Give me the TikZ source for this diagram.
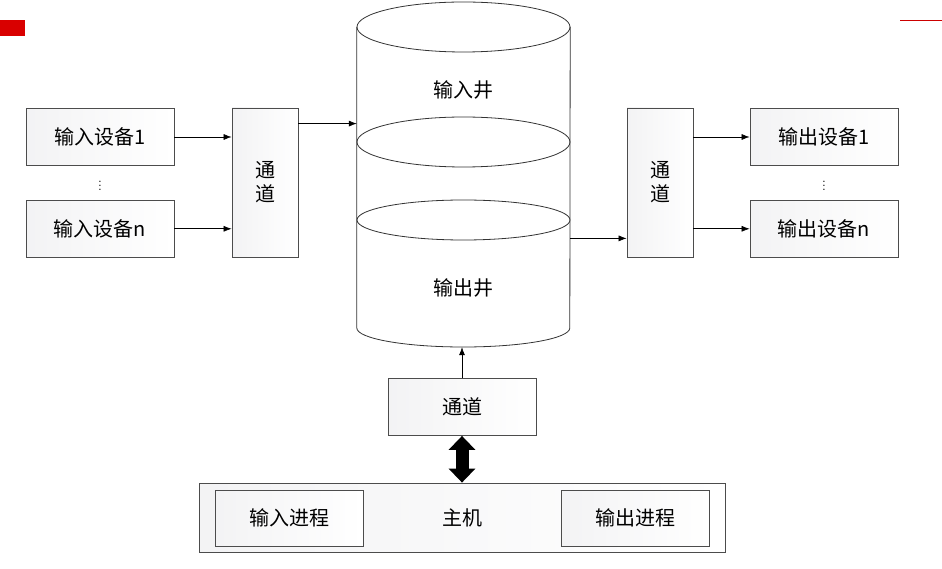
\documentclass[tikz,border=0pt]{standalone}
\usepackage{fontspec}
\newfontfamily\cjk{Noto Sans CJK SC}
\usetikzlibrary{arrows.meta,positioning,calc}

\begin{document}
\begin{tikzpicture}[
  x=1pt, y=1pt,
  node distance=34pt,
  font=\cjk\fontsize{20}{24}\selectfont,
  box/.style={rectangle, draw=black!70, line width=0.8pt, left color=blue!6!gray!9, right color=white, minimum width=148pt, minimum height=57pt, inner sep=0pt},
  chan/.style={box, minimum width=66pt, minimum height=149pt, align=center},
  link/.style={-{Latex[length=8pt,width=6pt]}, line width=0.6pt},
  vdots/.style={inner sep=0pt, font=\fontsize{14}{14}\selectfont},
]
  \useasboundingbox (0,0) rectangle (942,568);
  % page marks
  \fill[red!85!black] (0,532) rectangle (25,548);
  \draw[red!80!black, line width=1pt] (900,547) -- (942,547);

  % input side
  \node[box] (in1) at (100,431) {输入设备1};
  \node[box, below=34pt of in1] (inn) {输入设备n};
  \node[vdots] (indots) at ($(in1)!0.5!(inn)$) {$\vdots$};
  \node[chan] (chanin) at (265,385.5) {通\\道};

  % the well (cylinder)
  \node[minimum width=213pt, minimum height=345pt, inner sep=0pt] (well) at (463.5,393.5) {};
  \begin{scope}[line width=0.8pt, draw=black!80]
    \fill[white] (well.west |- 0,541) -- (well.west |- 0,240) arc[start angle=180, end angle=360, x radius=106.5, y radius=19] -- (well.east |- 0,541) -- cycle;
    \draw (well.west |- 0,541) -- (well.west |- 0,240) arc[start angle=180, end angle=360, x radius=106.5, y radius=19] -- (well.east |- 0,541);
    \draw (well.north |- 0,541) ellipse[x radius=106.5, y radius=25];
    \draw (well.north |- 0,426) ellipse[x radius=106.5, y radius=25];
    \draw (well.north |- 0,348) ellipse[x radius=106.5, y radius=20];
  \end{scope}
  \node (inwell) at (463,478) {输入井};
  \node (outwell) at (463,280) {输出井};

  % output side
  \node[chan] (chanout) at (660,385.5) {通\\道};
  \node[box] (out1) at (824,431) {输出设备1};
  \node[box, below=34pt of out1] (outn) {输出设备n};
  \node[vdots] (outdots) at ($(out1)!0.5!(outn)$) {$\vdots$};

  % host
  \node[box] (chanmid) at (462,161) {通道};
  \node[box, minimum width=526pt, minimum height=69pt] (host) at (462,50.5) {主机};
  \node[box, minimum height=56pt] (inproc) at (289,50) {输入进程};
  \node[box, minimum height=56pt] (outproc) at (635,50) {输出进程};

  % connectors
  \draw[link] (in1) -- (in1 -| chanin.west);
  \draw[link] (inn) -- (inn -| chanin.west);
  \coordinate (inlet) at ([yshift=-16pt]chanin.north east);
  \draw[link] (inlet) -- (inlet -| well.west);
  \coordinate (outlet) at ([yshift=19pt]chanout.south west);
  \draw[link] (outlet -| well.east) -- (outlet);
  \draw[link] (out1 -| chanout.east) -- (out1);
  \draw[link] (outn -| chanout.east) -- (outn);
  \draw[link] (chanmid.north) -- (chanmid.north |- well.south);
  \draw[line width=13pt, {Triangle[length=14pt,width=26pt]}-{Triangle[length=14pt,width=26pt]}] (chanmid.south) -- (host.north);
\end{tikzpicture}
\end{document}
